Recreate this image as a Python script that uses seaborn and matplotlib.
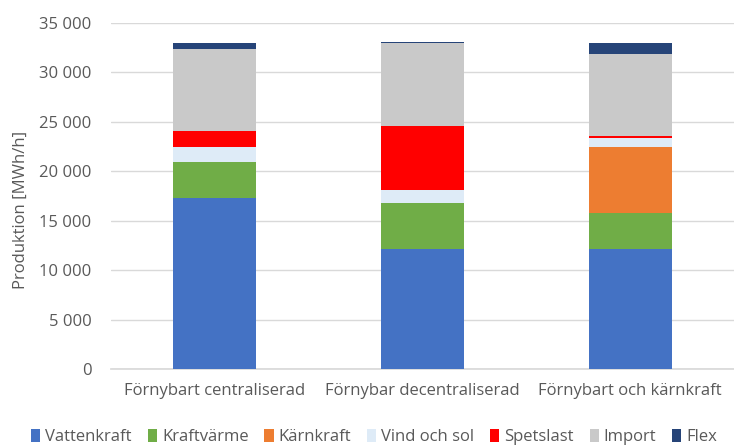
import numpy as np
import pandas as pd
import matplotlib
matplotlib.use("Agg")
import matplotlib.pyplot as plt
import seaborn as sns
from matplotlib.patches import Patch
from matplotlib.ticker import FuncFormatter

# ---- data (MWh/h) ----
scenarios = ["Förnybart centraliserad", "Förnybar decentraliserad", "Förnybart och kärnkraft"]
sources = ["Vattenkraft", "Kraftvärme", "Kärnkraft", "Vind och sol", "Spetslast", "Import", "Flex"]
vattenkraft = [17250, 12150, 12150]
kraftvarme = [3650, 4650, 3650]
karnkraft = [0, 0, 6650]
vind_sol = [1530, 1300, 950]
spetslast = [1610, 6450, 200]
import_ = [8300, 8400, 8250]
flex = [650, 150, 1150]
colors = ["#4472C4", "#70AD47", "#ED7D31", "#DEEBF7", "#FF0000", "#C9C9C9", "#264478"]

df = pd.DataFrame({
    "Scenario": scenarios,
    "Vattenkraft": vattenkraft,
    "Kraftvärme": kraftvarme,
    "Kärnkraft": karnkraft,
    "Vind och sol": vind_sol,
    "Spetslast": spetslast,
    "Import": import_,
    "Flex": flex,
})
cum = df[sources].cumsum(axis=1)
cum["Scenario"] = df["Scenario"]

sns.set_theme(style="white")
plt.rcParams["font.family"] = ["Open Sans", "DejaVu Sans"]
text_color = "#595959"
fs = 12

fig = plt.figure(figsize=(7.34, 4.47), dpi=100)
ax = fig.add_axes([0.151, 0.1745, 0.849, 0.774])

# stacked bars: draw cumulative totals from the top down
for src, col in reversed(list(zip(sources, colors))):
    sns.barplot(data=cum, x="Scenario", y=src, color=col, width=0.4,
                saturation=1, edgecolor="none", linewidth=0, ax=ax, zorder=3)

ax.set_ylim(0, 35000)
ax.set_yticks(np.arange(0, 35001, 5000))
ax.yaxis.set_major_formatter(FuncFormatter(lambda v, p: f"{int(v):,}".replace(",", " ")))
ax.grid(axis="y", color="#D9D9D9", linewidth=1, zorder=0)
for s in ["top", "right", "left"]:
    ax.spines[s].set_visible(False)
ax.spines["bottom"].set_color("#D9D9D9")
ax.tick_params(axis="y", length=0, labelsize=fs, colors=text_color, pad=14)
ax.tick_params(axis="x", length=0, labelsize=fs, colors=text_color, pad=10)
ax.set_xlabel("")
ax.set_ylabel("Produktion [MWh/h]", fontsize=fs, color=text_color)
ax.yaxis.set_label_coords(-0.132, 0.46)

handles = [Patch(facecolor=c, edgecolor="none") for c in colors]
fig.legend(handles, sources, loc="center", ncol=7, frameon=False,
           bbox_to_anchor=(0.51, 0.022), fontsize=fs, labelcolor=text_color,
           handlelength=0.55, handleheight=0.8, handletextpad=0.3, columnspacing=0.95)

fig.savefig("out.png", dpi=100)
